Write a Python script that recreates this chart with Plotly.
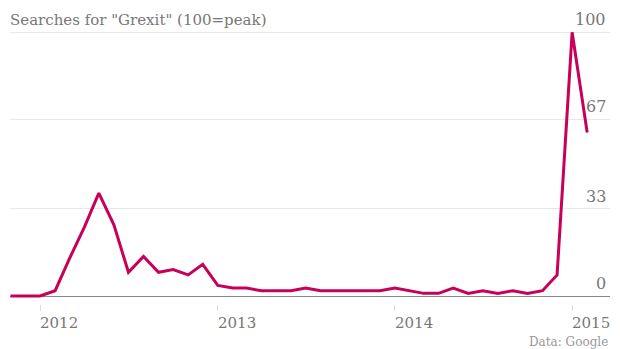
import plotly.graph_objects as go

months = [
    "2011-11-01", "2011-12-01",
    "2012-01-01", "2012-02-01", "2012-03-01", "2012-04-01", "2012-05-01", "2012-06-01",
    "2012-07-01", "2012-08-01", "2012-09-01", "2012-10-01", "2012-11-01", "2012-12-01",
    "2013-01-01", "2013-02-01", "2013-03-01", "2013-04-01", "2013-05-01", "2013-06-01",
    "2013-07-01", "2013-08-01", "2013-09-01", "2013-10-01", "2013-11-01", "2013-12-01",
    "2014-01-01", "2014-02-01", "2014-03-01", "2014-04-01", "2014-05-01", "2014-06-01",
    "2014-07-01", "2014-08-01", "2014-09-01", "2014-10-01", "2014-11-01", "2014-12-01",
    "2015-01-01", "2015-02-01",
]
searches = [
    0, 0,
    0, 2, 14, 26, 39, 27, 9, 15, 9, 10, 8, 12,
    4, 3, 3, 2, 2, 2, 3, 2, 2, 2, 2, 2,
    3, 2, 1, 1, 3, 1, 2, 1, 2, 1, 2, 8,
    100, 62,
]
y_ticks = [0, 33, 67, 100]
x_tick_dates = ["2012-01-01", "2013-01-01", "2014-01-01", "2015-01-01"]
x_tick_labels = ["2012", "2013", "2014", "2015"]

FONT = "DejaVu Serif"
LINE = "#c7005a"

fig = go.Figure()
fig.add_trace(go.Scatter(
    x=months, y=searches, mode="lines",
    line=dict(color=LINE, width=3), hoverinfo="skip",
))

annotations = []
for v in y_ticks:
    annotations.append(dict(
        x=1, xref="paper", y=v, yref="y", text=str(v), showarrow=False,
        xanchor="right", yanchor="bottom", xshift=-2, yshift=1,
        font=dict(family=FONT, size=16, color="#777777"),
    ))
for d, lab in zip(x_tick_dates, x_tick_labels):
    annotations.append(dict(
        x=d, xref="x", y=0, yref="paper", text=lab, showarrow=False,
        xanchor="left", yanchor="top", yshift=-8, xshift=-2,
        font=dict(family=FONT, size=15, color="#777777"),
    ))
annotations.append(dict(
    x=1, xref="paper", y=0, yref="paper", text="Data: Google", showarrow=False,
    xanchor="right", yanchor="top", yshift=-29, xshift=0,
    font=dict(family=FONT, size=12, color="#999999"),
))
annotations.append(dict(
    x=0, xref="paper", y=1, yref="paper", text='Searches for "Grexit" (100=peak)',
    showarrow=False, xanchor="left", yanchor="middle", yshift=0, xshift=-2,
    font=dict(family=FONT, size=15, color="#777777"),
))

fig.update_layout(
    width=620, height=349,
    margin=dict(l=10, r=10, t=20, b=45),
    paper_bgcolor="white", plot_bgcolor="white",
    showlegend=False,
    annotations=annotations,
    xaxis=dict(
        type="date",
        range=["2011-10-31", "2015-03-20"],
        tickvals=x_tick_dates, showticklabels=False,
        ticks="outside", ticklen=6, tickcolor="#dddddd", tickwidth=1,
        showgrid=False, zeroline=False, showline=False,
    ),
    yaxis=dict(
        range=[-3.03, 104.66],
        tickvals=y_ticks, showticklabels=False,
        showgrid=True, gridcolor="#e8e8e8", gridwidth=1,
        zeroline=True, zerolinecolor="#888888", zerolinewidth=1,
        showline=False,
    ),
)

fig.write_html("out.html")
